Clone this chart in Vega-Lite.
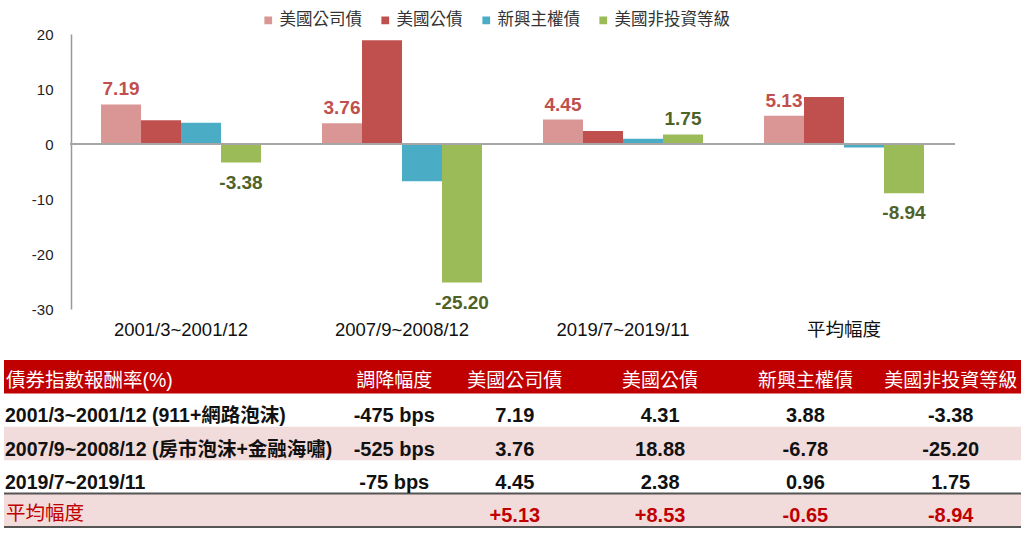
{
  "$schema": "https://vega.github.io/schema/vega-lite/v6.json",
  "background": "#ffffff",
  "padding": {"left": 3, "top": 12, "right": 0, "bottom": 0},
  "bounds": "flush",
  "spacing": 51,
  "locale": {"number": {"decimal": ".", "thousands": ",", "grouping": [3], "currency": ["$", ""], "minus": "-"}},
  "config": {
    "view": {"stroke": null},
    "font": "Liberation Sans, Noto Sans CJK TC, sans-serif",
    "locale": {"number": {"decimal": ".", "thousands": ",", "grouping": [3], "currency": ["$", ""], "minus": "-"}}
  },
  "datasets": {
    "bars": [
      {"period": "2001/3~2001/12", "series": "美國公司債", "value": 7.19},
      {"period": "2001/3~2001/12", "series": "美國公債", "value": 4.31},
      {"period": "2001/3~2001/12", "series": "新興主權債", "value": 3.88},
      {"period": "2001/3~2001/12", "series": "美國非投資等級", "value": -3.38},
      {"period": "2007/9~2008/12", "series": "美國公司債", "value": 3.76},
      {"period": "2007/9~2008/12", "series": "美國公債", "value": 18.88},
      {"period": "2007/9~2008/12", "series": "新興主權債", "value": -6.78},
      {"period": "2007/9~2008/12", "series": "美國非投資等級", "value": -25.20},
      {"period": "2019/7~2019/11", "series": "美國公司債", "value": 4.45},
      {"period": "2019/7~2019/11", "series": "美國公債", "value": 2.38},
      {"period": "2019/7~2019/11", "series": "新興主權債", "value": 0.96},
      {"period": "2019/7~2019/11", "series": "美國非投資等級", "value": 1.75},
      {"period": "平均幅度", "series": "美國公司債", "value": 5.13},
      {"period": "平均幅度", "series": "美國公債", "value": 8.53},
      {"period": "平均幅度", "series": "新興主權債", "value": -0.65},
      {"period": "平均幅度", "series": "美國非投資等級", "value": -8.94}
    ],
    "table": [
      {"r": "h", "c": "c0", "t": "債券指數報酬率(%)"},
      {"r": "h", "c": "c1", "t": "調降幅度"},
      {"r": "h", "c": "c2", "t": "美國公司債"},
      {"r": "h", "c": "c3", "t": "美國公債"},
      {"r": "h", "c": "c4", "t": "新興主權債"},
      {"r": "h", "c": "c5", "t": "美國非投資等級"},
      {"r": "r1", "c": "c0", "t": "2001/3~2001/12 (911+網路泡沫)"},
      {"r": "r1", "c": "c1", "t": "-475 bps"},
      {"r": "r1", "c": "c2", "t": "7.19"},
      {"r": "r1", "c": "c3", "t": "4.31"},
      {"r": "r1", "c": "c4", "t": "3.88"},
      {"r": "r1", "c": "c5", "t": "-3.38"},
      {"r": "r2", "c": "c0", "t": "2007/9~2008/12 (房市泡沫+金融海嘯)"},
      {"r": "r2", "c": "c1", "t": "-525 bps"},
      {"r": "r2", "c": "c2", "t": "3.76"},
      {"r": "r2", "c": "c3", "t": "18.88"},
      {"r": "r2", "c": "c4", "t": "-6.78"},
      {"r": "r2", "c": "c5", "t": "-25.20"},
      {"r": "r3", "c": "c0", "t": "2019/7~2019/11"},
      {"r": "r3", "c": "c1", "t": "-75 bps"},
      {"r": "r3", "c": "c2", "t": "4.45"},
      {"r": "r3", "c": "c3", "t": "2.38"},
      {"r": "r3", "c": "c4", "t": "0.96"},
      {"r": "r3", "c": "c5", "t": "1.75"},
      {"r": "avg", "c": "c0", "t": "平均幅度"},
      {"r": "avg", "c": "c2", "t": "+5.13"},
      {"r": "avg", "c": "c3", "t": "+8.53"},
      {"r": "avg", "c": "c4", "t": "-0.65"},
      {"r": "avg", "c": "c5", "t": "-8.94"}
    ]
  },
  "vconcat": [
    {
      "width": 1017,
      "height": 275,
      "data": {"name": "bars"},
      "encoding": {
        "x": {
          "field": "period", "type": "nominal",
          "scale": {"domain": ["2001/3~2001/12", "2007/9~2008/12", "2019/7~2019/11", "平均幅度"], "paddingInner": 0.276, "paddingOuter": 0.439},
          "axis": {
            "title": null, "domain": false, "ticks": false, "labelAngle": 0,
            "labelFontSize": 18.5, "labelColor": "#111111", "labelPadding": 11,
            "encode": {"labels": {"update": {"dy": {"signal": "datum.value === '平均幅度' ? 7 : 0"}}}}
          }
        }
      },
      "layer": [
        {
          "mark": {"type": "bar"},
          "encoding": {
            "xOffset": {"field": "series", "type": "nominal", "scale": {"domain": ["美國公司債", "美國公債", "新興主權債", "美國非投資等級"], "paddingInner": 0, "paddingOuter": 0}},
            "y": {
              "field": "value", "type": "quantitative",
              "scale": {"domain": [-30, 20], "nice": false, "zero": false},
              "axis": {
                "title": null, "offset": -67, "ticks": false, "grid": false,
                "values": [-30, -20, -10, 0, 10, 20],
                "labelExpr": "replace(datum.label, '\u2212', '-')",
                "domainColor": "#999999", "domainWidth": 1.5,
                "labelPadding": 18, "labelFontSize": 15, "labelColor": "#222222"
              }
            },
            "color": {
              "field": "series", "type": "nominal",
              "scale": {"domain": ["美國公司債", "美國公債", "新興主權債", "美國非投資等級"], "range": ["#d99694", "#c0504d", "#4bacc6", "#9bbb59"]},
              "legend": {
                "orient": "none", "legendX": 256, "legendY": -22, "direction": "horizontal",
                "title": null, "symbolType": "square", "symbolSize": 60, "symbolStrokeWidth": 0,
                "labelFontSize": 16.5, "labelFont": "Noto Sans CJK TC", "labelColor": "#333333",
                "labelOffset": 3, "columnPadding": 15, "padding": 0
              }
            }
          }
        },
        {
          "mark": {"type": "rule", "color": "#a6a6a6", "strokeWidth": 2},
          "encoding": {
            "x": {"datum": "2001/3~2001/12", "type": "nominal", "bandPosition": -0.19},
            "x2": {"datum": "平均幅度", "bandPosition": 1.19},
            "y": {"datum": 0, "type": "quantitative"}
          }
        },
        {
          "transform": [{"filter": "(datum.series == '美國公司債' || datum.series == '美國非投資等級') && datum.value >= 0"}],
          "mark": {"type": "text", "fontSize": 19, "fontWeight": "bold", "baseline": "alphabetic", "dy": -9},
          "encoding": {
            "xOffset": {"field": "series", "type": "nominal"},
            "y": {"field": "value", "type": "quantitative"},
            "text": {"field": "value", "type": "quantitative", "format": ".2f"},
            "color": {"condition": {"test": "datum.series == '美國公司債'", "value": "#c0504d"}, "value": "#4f6228"}
          }
        },
        {
          "transform": [{"filter": "(datum.series == '美國公司債' || datum.series == '美國非投資等級') && datum.value < 0"}],
          "mark": {"type": "text", "fontSize": 19, "fontWeight": "bold", "baseline": "alphabetic", "dy": 26},
          "encoding": {
            "xOffset": {"field": "series", "type": "nominal"},
            "y": {"field": "value", "type": "quantitative"},
            "text": {"field": "value", "type": "quantitative", "format": ".2f"},
            "color": {"condition": {"test": "datum.series == '美國公司債'", "value": "#c0504d"}, "value": "#4f6228"}
          }
        }
      ]
    },
    {
      "width": 1017,
      "height": 167,
      "data": {"name": "table"},
      "resolve": {"scale": {"x": "independent"}},
      "layer": [
        {
          "transform": [{"filter": "datum.c == 'c0' && (datum.r == 'h' || datum.r == 'r2' || datum.r == 'avg')"}],
          "mark": {"type": "rect"},
          "encoding": {
            "y": {"field": "r", "type": "nominal", "sort": ["h", "r1", "r2", "r3", "avg"], "scale": {"domain": ["h", "r1", "r2", "r3", "avg"], "paddingInner": 0, "paddingOuter": 0}, "axis": null},
            "fill": {"condition": {"test": "datum.r == 'h'", "value": "#c00000"}, "value": "#f2dcdb"}
          }
        },
        {
          "transform": [{"filter": "datum.c == 'c0' && datum.r == 'avg'"}],
          "mark": {"type": "rule", "color": "#555555", "strokeWidth": 2},
          "encoding": {
            "y": {"field": "r", "type": "nominal", "bandPosition": 0}
          }
        },
        {
          "transform": [{"filter": "datum.c == 'c0' && datum.r == 'avg'"}],
          "mark": {"type": "rule", "color": "#555555", "strokeWidth": 2},
          "encoding": {
            "y": {"field": "r", "type": "nominal", "bandPosition": 1}
          }
        },
        {
          "transform": [{"filter": "datum.c == 'c0' && (datum.r == 'h' || datum.r == 'avg')"}],
          "mark": {"type": "text", "align": "left", "baseline": "middle", "dx": 2, "dy": 4, "fontSize": 19.5},
          "encoding": {
            "x": {"datum": 0, "type": "quantitative", "scale": {"domain": [0, 1]}, "axis": null},
            "y": {"field": "r", "type": "nominal"},
            "text": {"field": "t"},
            "color": {"condition": {"test": "datum.r == 'h'", "value": "#ffffff"}, "value": "#c00000"}
          }
        },
        {
          "transform": [{"filter": "datum.c == 'c0' && datum.r != 'h' && datum.r != 'avg'"}],
          "mark": {"type": "text", "align": "left", "baseline": "middle", "dx": 1, "dy": 6, "fontSize": 19.5, "fontWeight": "bold", "color": "#111111"},
          "encoding": {
            "x": {"datum": 0, "type": "quantitative", "scale": {"domain": [0, 1]}, "axis": null},
            "y": {"field": "r", "type": "nominal"},
            "text": {"field": "t"}
          }
        },
        {
          "transform": [{"filter": "datum.c == 'c1' && datum.r == 'h'"}],
          "mark": {"type": "text", "align": "center", "baseline": "middle", "dy": 4, "fontSize": 19, "color": "#ffffff"},
          "encoding": {
            "x": {"field": "c", "type": "nominal", "bandPosition": 0.69, "scale": {"type": "band", "domain": ["c1", "c2", "c3", "c4", "c5"], "paddingInner": 0, "paddingOuter": 1.056, "align": 0.998}, "axis": null},
            "y": {"field": "r", "type": "nominal"},
            "text": {"field": "t"}
          }
        },
        {
          "transform": [{"filter": "datum.c != 'c0' && datum.c != 'c1' && datum.r == 'h'"}],
          "mark": {"type": "text", "align": "center", "baseline": "middle", "dy": 4, "fontSize": 19, "color": "#ffffff"},
          "encoding": {
            "x": {"field": "c", "type": "nominal", "bandPosition": 0.52, "scale": {"type": "band", "domain": ["c1", "c2", "c3", "c4", "c5"], "paddingInner": 0, "paddingOuter": 1.056, "align": 0.998}, "axis": null},
            "y": {"field": "r", "type": "nominal"},
            "text": {"field": "t"}
          }
        },
        {
          "transform": [{"filter": "datum.c == 'c1' && datum.r != 'h'"}],
          "mark": {"type": "text", "align": "center", "baseline": "middle", "dy": 6, "fontSize": 20, "fontWeight": "bold", "color": "#111111"},
          "encoding": {
            "x": {"field": "c", "type": "nominal", "bandPosition": 0.69, "scale": {"type": "band", "domain": ["c1", "c2", "c3", "c4", "c5"], "paddingInner": 0, "paddingOuter": 1.056, "align": 0.998}, "axis": null},
            "y": {"field": "r", "type": "nominal"},
            "text": {"field": "t"}
          }
        },
        {
          "transform": [{"filter": "datum.c != 'c0' && datum.c != 'c1' && datum.r != 'h'"}],
          "mark": {"type": "text", "align": "center", "baseline": "middle", "dy": 6, "fontSize": 20, "fontWeight": "bold"},
          "encoding": {
            "x": {"field": "c", "type": "nominal", "bandPosition": 0.52, "scale": {"type": "band", "domain": ["c1", "c2", "c3", "c4", "c5"], "paddingInner": 0, "paddingOuter": 1.056, "align": 0.998}, "axis": null},
            "y": {"field": "r", "type": "nominal"},
            "text": {"field": "t"},
            "color": {"condition": {"test": "datum.r == 'avg'", "value": "#c00000"}, "value": "#111111"}
          }
        }
      ]
    }
  ]
}
